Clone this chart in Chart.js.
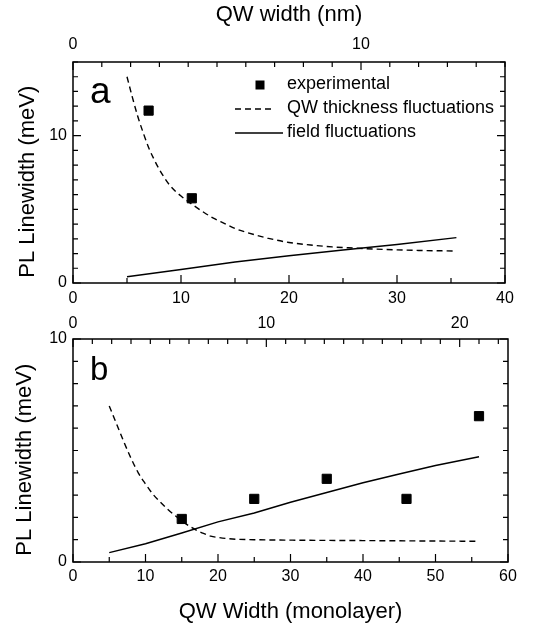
<!DOCTYPE html>
<html>
<head>
<meta charset="utf-8">
<script src="https://cdn.jsdelivr.net/npm/chart.js@4.4.1/dist/chart.umd.min.js"></script>
<style>
  body { margin: 0; background: #fff; }
  #wrap { position: relative; width: 539px; height: 625px; }
  canvas { position: absolute; left: 0; }
  #chartA { top: 0; }
  #chartB { top: 305px; }
</style>
</head>
<body>
<div id="wrap">
  <canvas id="chartA" width="539" height="312"></canvas>
  <canvas id="chartB" width="539" height="320"></canvas>
</div>
<script>
// PL linewidth vs quantum well width, two panels (a, b)
// bottom axis in monolayers, top axis the same width in nm

const NM_PER_ML = 0.375;
const FONT = '"Liberation Sans", Arial, Helvetica, sans-serif';

// panel a
const mlExpA = [7, 11];
const lwExpA = [11.7, 5.75];
const mlThickA = [5, 5.5, 6, 6.5, 7, 7.5, 8, 9, 10, 11, 12, 13, 14, 15, 16, 18, 20, 22, 24, 26, 28, 30, 32, 35.5];
const lwThickA = [14.0, 12.6, 11.3, 10.2, 9.2, 8.4, 7.7, 6.6, 5.9, 5.35, 4.85, 4.4, 4.05, 3.7, 3.45, 3.05, 2.75, 2.58, 2.45, 2.37, 2.3, 2.25, 2.21, 2.17];
const mlFieldA = [5, 10, 15, 20, 25, 30, 35.5];
const lwFieldA = [0.42, 0.92, 1.42, 1.85, 2.24, 2.62, 3.08];

// panel b
const mlExpB = [15, 25, 35, 46, 56];
const lwExpB = [1.93, 2.83, 3.73, 2.83, 6.54];
const mlThickB = [5, 6, 7, 8, 9, 10, 11, 12, 13, 14, 15, 16, 17, 18, 19, 20, 22, 25, 30, 40, 50, 55.5];
const lwThickB = [7.0, 6.2, 5.4, 4.65, 4.0, 3.5, 3.05, 2.7, 2.38, 2.1, 1.85, 1.62, 1.43, 1.28, 1.16, 1.1, 1.03, 1.0, 0.98, 0.96, 0.94, 0.93];
const mlFieldB = [5, 10, 15, 20, 25, 30, 35, 40, 45, 50, 56];
const lwFieldB = [0.42, 0.82, 1.3, 1.8, 2.2, 2.68, 3.12, 3.55, 3.95, 4.33, 4.72];

// tick labels
const mlTicksA = [0, 10, 20, 30, 40];
const mlTicksB = [0, 10, 20, 30, 40, 50, 60];
const nmTicksA = [0, 10];
const nmTicksB = [0, 10, 20];
const lwTicksA = [0, 10];
const lwTicksB = [0, 10];

const seriesLabels = ['experimental', 'QW thickness fluctuations', 'field fluctuations'];

function toPts(xs, ys) {
  return xs.map((x, i) => ({ x: x, y: ys[i] }));
}

// frame, inward tick marks, panel letter and (optional) legend
const decor = {
  id: 'decor',
  afterDatasetsDraw(chart, args, o) {
    const { ctx, chartArea: a, scales } = chart;
    ctx.save();
    ctx.strokeStyle = '#000';
    ctx.setLineDash([]);
    ctx.lineWidth = 1.5;
    ctx.strokeRect(a.left, a.top, a.right - a.left, a.bottom - a.top);

    ctx.lineWidth = 1.2;
    const marks = (scale, minor, major, draw) => {
      const n = Math.floor((scale.max - scale.min) / minor + 1e-9);
      for (let i = 0; i <= n; i++) {
        const v = scale.min + i * minor;
        const isMajor = Math.abs(v / major - Math.round(v / major)) < 1e-6;
        draw(scale.getPixelForValue(v), isMajor ? 8 : 5);
      }
    };
    ctx.beginPath();
    marks(scales.x, 5, 10, (p, l) => { ctx.moveTo(p, a.bottom); ctx.lineTo(p, a.bottom - l); });
    marks(scales.x2, 1, 10, (p, l) => { ctx.moveTo(p, a.top); ctx.lineTo(p, a.top + l); });
    marks(scales.y, 1, 10, (p, l) => {
      ctx.moveTo(a.left, p); ctx.lineTo(a.left + l, p);
      ctx.moveTo(a.right, p); ctx.lineTo(a.right - l, p);
    });
    ctx.stroke();

    ctx.fillStyle = '#000';
    ctx.textAlign = 'left';
    ctx.textBaseline = 'alphabetic';
    ctx.font = o.letterSize + 'px ' + FONT;
    ctx.fillText(o.letter, o.letterX, o.letterY);

    if (o.legend) {
      const L = o.legend;
      ctx.font = '18px ' + FONT;
      ctx.textBaseline = 'middle';
      chart.data.datasets.forEach((ds, i) => {
        const y = L.rows[i];
        if (i === 0) {
          const s = 9;
          ctx.fillRect(L.markX - s / 2, y - s / 2, s, s);
        } else {
          ctx.beginPath();
          ctx.lineWidth = ds.borderWidth;
          ctx.setLineDash(ds.borderDash || []);
          ctx.moveTo(L.lineX0, y);
          ctx.lineTo(i === 1 ? L.lineX1 - 12 : L.lineX1, y);
          ctx.stroke();
          ctx.setLineDash([]);
        }
        ctx.fillText(ds.label, L.textX, y - 1);
      });
    }
    ctx.restore();
  }
};

function fixedTicks(values) {
  return s => { s.ticks = values.map(v => ({ value: v })); };
}

function makePanel(id, p) {
  const tickFont = { family: FONT, size: 16 };
  const titleFont = { family: FONT, size: 22 };
  return new Chart(document.getElementById(id), {
    type: 'scatter',
    data: {
      datasets: [
        {
          label: seriesLabels[0],
          data: toPts(p.mlExp, p.lwExp),
          pointStyle: 'rect',
          pointRadius: 6.5,
          pointBorderWidth: 1,
          backgroundColor: '#000',
          borderColor: '#000'
        },
        {
          label: seriesLabels[1],
          data: toPts(p.mlThick, p.lwThick),
          showLine: true,
          borderColor: '#000',
          borderWidth: 1.4,
          borderDash: [6, 4],
          pointRadius: 0,
          cubicInterpolationMode: 'monotone'
        },
        {
          label: seriesLabels[2],
          data: toPts(p.mlField, p.lwField),
          showLine: true,
          borderColor: '#000',
          borderWidth: 1.5,
          pointRadius: 0
        }
      ]
    },
    options: {
      responsive: false,
      animation: false,
      layout: { padding: { left: 0, top: 0, bottom: 0, right: p.rightPad } },
      plugins: {
        legend: { display: false },
        tooltip: { enabled: false },
        decor: p.decor
      },
      scales: {
        x: {
          type: 'linear', position: 'bottom', min: 0, max: p.xMax,
          grid: { display: false, drawTicks: false }, border: { display: false },
          ticks: { padding: p.bottomTickPad, font: tickFont, color: '#000', maxRotation: 0, autoSkip: false },
          afterBuildTicks: fixedTicks(p.mlTicks),
          title: { display: !!p.xTitle, text: p.xTitle || '', font: titleFont, color: '#000', padding: { top: 0, bottom: p.xTitlePad || 0 } },
          afterFit: s => { s.height = p.bottomH; }
        },
        x2: {
          type: 'linear', position: 'top', min: 0, max: p.xMax * NM_PER_ML,
          grid: { display: false, drawTicks: false }, border: { display: false },
          ticks: { padding: p.topTickPad, font: tickFont, color: '#000', maxRotation: 0, autoSkip: false },
          afterBuildTicks: fixedTicks(p.nmTicks),
          title: { display: !!p.topTitle, text: p.topTitle || '', font: titleFont, color: '#000', padding: { top: p.topTitlePad || 0, bottom: 0 } },
          afterFit: s => { s.height = p.topH; }
        },
        y: {
          type: 'linear', position: 'left', min: 0, max: p.yMax,
          grid: { display: false, drawTicks: false }, border: { display: false },
          ticks: { padding: 6, font: tickFont, color: '#000', autoSkip: false },
          afterBuildTicks: fixedTicks(p.lwTicks),
          // trailing spaces nudge the rotated title down a little
          title: { display: true, text: 'PL Linewidth (meV)   ', font: titleFont, color: '#000', padding: { top: p.yTitlePad, bottom: 0 } },
          afterFit: s => { s.width = 73; }
        }
      }
    },
    plugins: [decor]
  });
}

makePanel('chartA', {
  mlExp: mlExpA, lwExp: lwExpA,
  mlThick: mlThickA, lwThick: lwThickA,
  mlField: mlFieldA, lwField: lwFieldA,
  mlTicks: mlTicksA, nmTicks: nmTicksA, lwTicks: lwTicksA,
  xMax: 40, yMax: 15,
  rightPad: 34, topH: 62, bottomH: 29,
  topTickPad: 8, bottomTickPad: 6,
  topTitle: 'QW width (nm)', topTitlePad: 2,
  yTitlePad: 15,
  decor: {
    letter: 'a', letterSize: 37, letterX: 90, letterY: 103,
    legend: { markX: 260, lineX0: 235, lineX1: 283, textX: 287, rows: [85, 109, 133] }
  }
});

makePanel('chartB', {
  mlExp: mlExpB, lwExp: lwExpB,
  mlThick: mlThickB, lwThick: lwThickB,
  mlField: mlFieldB, lwField: lwFieldB,
  mlTicks: mlTicksB, nmTicks: nmTicksB, lwTicks: lwTicksB,
  xMax: 60, yMax: 10,
  rightPad: 31, topH: 34, bottomH: 63,
  topTickPad: 6, bottomTickPad: 5,
  xTitle: 'QW Width (monolayer)', xTitlePad: 0,
  yTitlePad: 12,
  decor: { letter: 'b', letterSize: 33, letterX: 90, letterY: 75 }
});
</script>
</body>
</html>
